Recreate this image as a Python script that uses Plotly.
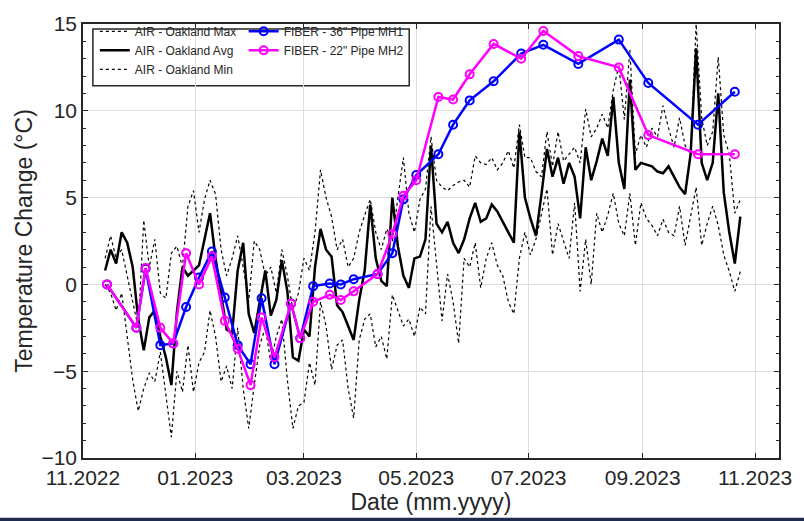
import pandas as pd
import plotly.graph_objects as go

# ---------------- data ----------------
air_start = "2022-11-13"
air_step = "3D"

air_max = [1.5, 2.8, 1.5, 2.0, 0.5, -1.0, -2.5, 3.7, 1.0, 2.6,
           -0.5, -0.8, 1.8, 2.2, 1.0, 4.5, 5.4, 3.0, 4.9, 6.0,
           5.2, 2.0, 0.5, 1.5, 2.8, 1.0, -1.0, 2.5, 2.0, 0.5,
           1.0, -0.5, 2.0, 0.5, -1.5, -0.5, 1.5, 0.8, 3.0, 6.6,
           5.0, 3.9, 2.0, 2.6, 1.0, 1.5, 3.0, 4.0, 4.9, 3.0,
           2.0, 3.2, 2.5, 5.0, 7.3, 4.1, 3.0, 4.9, 5.5, 8.5,
           6.0, 5.6, 5.4, 5.7, 5.9, 6.0, 5.6, 7.4, 7.0, 6.9,
           7.3, 6.6, 7.0, 7.7, 6.7, 9.2, 7.3, 7.3, 6.5, 6.2,
           8.8, 6.8, 8.8, 7.1, 7.5, 7.9, 7.0, 10.1, 8.5, 9.0,
           9.8, 9.0, 11.2, 12.6, 9.5, 13.5, 7.5, 8.6, 7.9, 9.0,
           8.5, 10.3, 9.0, 7.9, 9.6, 8.0, 7.5, 15.0, 9.6, 8.0,
           8.8, 13.1, 8.6, 7.5, 4.1, 4.9]

air_avg = [0.8, 2.0, 1.2, 3.0, 2.4, 1.0, -2.0, -3.8, -1.9, -1.5,
           -3.0, -4.2, -5.8, -1.6, 1.0, 0.5, 0.8, 1.1, 2.6, 4.1,
           1.5, -0.6, -2.6, -2.8, 0.8, 2.4, -1.7, -2.8, -1.0, 0.8,
           -1.8, -0.9, 1.4, -0.4, -4.2, -4.4, -2.6, -3.0, 1.0, 3.2,
           2.0, 1.6, -1.2, -1.6, -2.4, -3.2, -0.9, 0.8, 4.6, 1.5,
           0.2, -0.1, 5.0, 2.2, 0.5, -0.2, 1.5, 1.6, 2.6, 8.0,
           3.5, 3.0, 3.6, 2.4, 1.8, 2.6, 3.8, 4.7, 3.6, 3.8,
           4.6, 4.2, 3.6, 3.0, 2.4, 8.8, 5.0, 3.8, 2.8, 5.2,
           7.8, 6.2, 7.3, 5.8, 7.0, 6.2, 3.8, 7.9, 6.0, 7.1,
           8.4, 7.4, 10.8, 7.0, 5.5, 11.8, 6.6, 7.0, 6.9, 6.8,
           6.5, 6.4, 6.8, 6.2, 5.6, 5.2, 7.5, 13.6, 7.0, 6.0,
           7.0, 11.0, 5.3, 3.0, 1.2, 3.9]

air_min = [0.0, -0.5, -1.5, -0.5, -3.0, -5.5, -7.3, -6.0, -5.1, -5.6,
           -3.9, -6.5, -8.8, -5.0, -6.2, -3.5, -6.2, -4.5, -3.9, -1.5,
           -3.0, -5.6, -4.7, -6.0, -2.5, -6.0, -8.3, -5.8, -3.5, -2.5,
           -4.5, -3.0, -2.0, -5.5, -8.3, -7.0, -6.8, -4.5, -5.8, -1.0,
           -2.4, -4.9, -3.5, -3.2, -6.0, -7.7, -3.2, -2.0, -1.7, -3.6,
           -3.0, -4.3, -0.6, -1.5, -2.4, -2.0, -3.0, -1.3, -1.7, 4.5,
           1.0, -2.1, 0.6, -1.0, -3.4, 1.5, 1.0, 2.4, -0.2, 1.5,
           2.4, 1.1, 0.5, -1.0, -1.7, 1.5, 3.0, 1.7, 2.6, 4.0,
           5.5, 1.7, 3.5, 2.5, 1.5, 4.7, -0.4, 2.6, 0.0, 4.1,
           3.0, 4.0, 5.25, 3.5, 2.8, 5.25, 2.25, 4.7, 3.8, 3.4,
           2.8, 3.75, 3.0, 2.8, 4.5, 2.25, 4.0, 5.6, 2.25, 3.5,
           4.5, 3.4, 1.7, 0.75, -0.4, 0.75]

fiber_dates = ["2022-11-14", "2022-11-30", "2022-12-05", "2022-12-13", "2022-12-20",
               "2022-12-27", "2023-01-03", "2023-01-10", "2023-01-17", "2023-01-24",
               "2023-01-31", "2023-02-06", "2023-02-13", "2023-02-22", "2023-02-27",
               "2023-03-06", "2023-03-15", "2023-03-21", "2023-03-28", "2023-04-10",
               "2023-04-18", "2023-04-24", "2023-05-01", "2023-05-13", "2023-05-21",
               "2023-05-30", "2023-06-12", "2023-06-27", "2023-07-09", "2023-07-28",
               "2023-08-19", "2023-09-04", "2023-10-01", "2023-10-21"]

fiber_mh1 = [0.0, -2.5, 0.9, -3.5, -3.4, -1.3, 0.4, 1.9, -0.75, -3.5,
             -4.6, -0.8, -4.6, -1.1, -3.1, -0.1, 0.05, 0.0, 0.3, 0.6,
             1.8, 4.9, 6.3, 7.5, 9.2, 10.6, 11.7, 13.3, 13.8, 12.7,
             14.1, 11.6, 9.2, 11.1]

fiber_mh2 = [0.0, -2.5, 0.95, -2.5, -3.4, 1.8, 0.0, 1.6, -2.1, -3.7,
             -5.8, -1.9, -4.2, -1.1, -3.1, -1.0, -0.6, -0.9, -0.4, 0.6,
             2.9, 5.1, 6.0, 10.8, 10.65, 12.1, 13.85, 13.0, 14.6, 13.15,
             12.5, 8.6, 7.5, 7.5]

x_ticks_start = "2022-11-01"
x_range = ["2022-11-01", "2023-11-14"]
y_range = [-10, 15]

air_dates = pd.date_range(air_start, periods=len(air_avg), freq=air_step)

# ---------------- figure ----------------
fig = go.Figure()
ink = "#262626"
FONT = "Liberation Sans, Arial, Helvetica, sans-serif"

fig.add_trace(go.Scatter(x=air_dates, y=air_max, mode="lines",
                         name="AIR - Oakland Max",
                         line=dict(color="#000000", width=1.2, dash="dot")))
fig.add_trace(go.Scatter(x=air_dates, y=air_avg, mode="lines",
                         name="AIR - Oakland Avg",
                         line=dict(color="#000000", width=2.5)))
fig.add_trace(go.Scatter(x=air_dates, y=air_min, mode="lines",
                         name="AIR - Oakland Min",
                         line=dict(color="#000000", width=1.2, dash="dot")))
fig.add_trace(go.Scatter(x=fiber_dates, y=fiber_mh1, mode="lines+markers",
                         name='FIBER - 36" Pipe MH1', legend="legend2",
                         line=dict(color="#0000FF", width=2.5),
                         marker=dict(symbol="circle-open", size=8, color="#0000FF",
                                     line=dict(width=2, color="#0000FF"))))
fig.add_trace(go.Scatter(x=fiber_dates, y=fiber_mh2, mode="lines+markers",
                         name='FIBER - 22" Pipe MH2', legend="legend2",
                         line=dict(color="#FF00FF", width=2.5),
                         marker=dict(symbol="circle-open", size=8, color="#FF00FF",
                                     line=dict(width=2, color="#FF00FF"))))

fig.update_layout(
    width=804, height=521,
    margin=dict(l=83, r=19, t=14, b=63),
    plot_bgcolor="white", paper_bgcolor="white",
    font=dict(family=FONT, size=21, color=ink),
    showlegend=True,
    legend=dict(x=0.017, y=1.0165, xanchor="left", yanchor="top",
                bgcolor="rgba(0,0,0,0)", borderwidth=0,
                font=dict(size=12, color=ink), tracegroupgap=0,
                itemwidth=30),
    legend2=dict(x=0.2308, y=1.0165, xanchor="left", yanchor="top",
                 bgcolor="rgba(0,0,0,0)", borderwidth=0,
                 font=dict(size=12, color=ink), tracegroupgap=0,
                 itemwidth=30),
    shapes=[
        dict(type="rect", xref="paper", yref="paper",
             x0=0.0142, x1=0.4687, y0=0.858, y1=0.9887,
             line=dict(color=ink, width=1.5), fillcolor="rgba(255,255,255,1)",
             layer="below"),
        dict(type="rect", xref="paper", yref="paper",
             x0=-0.2, x1=1.2, y0=-0.16, y1=-0.1374,
             line=dict(width=0), fillcolor="#1e2b4d"),
    ],
)

fig.update_xaxes(
    type="date", range=x_range, tick0=x_ticks_start, dtick="M2",
    tickformat="%m.%Y", ticks="inside", ticklen=5, tickwidth=1, tickcolor=ink,
    showline=True, linecolor=ink, linewidth=1.5, mirror="ticks",
    showgrid=True, gridcolor="#dedede", gridwidth=1, zeroline=False,
    tickfont=dict(size=21, color=ink),
    title=dict(text="Date (mm.yyyy)", font=dict(size=23, color=ink), standoff=2),
)
fig.update_yaxes(
    range=y_range, dtick=5, tick0=0, ticks="inside", ticklen=5, tickwidth=1,
    tickcolor=ink, showline=True, linecolor=ink, linewidth=1.5, mirror="ticks",
    showgrid=True, gridcolor="#dedede", gridwidth=1, zeroline=False,
    minor=dict(dtick=1, ticks="inside", ticklen=3, tickcolor=ink, showgrid=False),
    tickfont=dict(size=21, color=ink),
    title=dict(text="Temperature Change (°C)", font=dict(size=23, color=ink), standoff=2),
)

fig.write_html("out.html")
